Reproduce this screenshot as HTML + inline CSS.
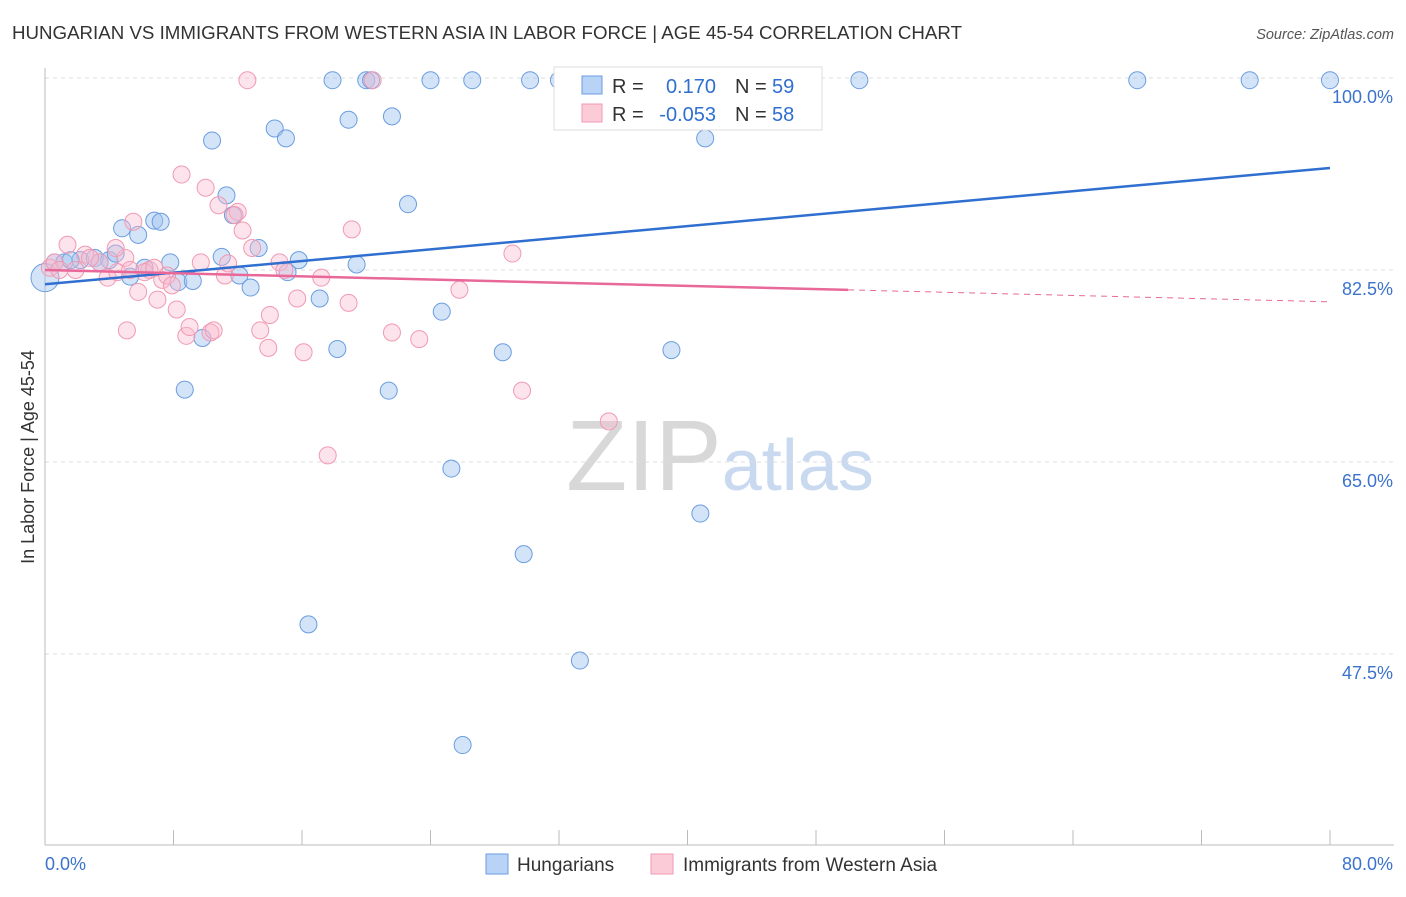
<!DOCTYPE html>
<html><head><meta charset="utf-8">
<style>
body{margin:0;background:#fff;font-family:"Liberation Sans",sans-serif;}
svg text{font-family:"Liberation Sans",sans-serif;}
</style></head>
<body>
<svg id="chart" width="1406" height="892" xmlns="http://www.w3.org/2000/svg">
<text x="12" y="39" font-size="18.6" fill="#333" textLength="950" lengthAdjust="spacingAndGlyphs">HUNGARIAN VS IMMIGRANTS FROM WESTERN ASIA IN LABOR FORCE | AGE 45-54 CORRELATION CHART</text>
<text x="1394" y="39" font-size="14.5" fill="#555" text-anchor="end" font-style="italic">Source: ZipAtlas.com</text>
<text x="720" y="490" font-size="100" text-anchor="middle" fill="#ddd" font-family="Liberation Serif"><tspan fill="#d8d8d8">ZIP</tspan><tspan fill="#c9daf0" font-family="Liberation Sans" font-size="72">atlas</tspan></text>
<g id="grid"></g>
<g id="axes"></g>
<g id="pts"></g>
<g id="trends"></g>
<text transform="translate(34,457) rotate(-90)" font-size="18" fill="#333" text-anchor="middle">In Labor Force | Age 45-54</text>
<g>
<rect x="554" y="67" width="268" height="63" fill="#fff" stroke="#ddd"/>
<rect x="582" y="76" width="20" height="18" fill="#b8d3f5" stroke="#6a9de0"/>
<rect x="582" y="104" width="20" height="18" fill="#fccbd8" stroke="#f09ab3"/>
<text x="612" y="93" font-size="20" fill="#333">R = </text><text x="716" y="93" font-size="20" fill="#2f6fd0" text-anchor="end">0.170</text>
<text x="735" y="93" font-size="20" fill="#333">N = </text><text x="772" y="93" font-size="20" fill="#2f6fd0">59</text>
<text x="612" y="121" font-size="20" fill="#333">R = </text><text x="716" y="121" font-size="20" fill="#2f6fd0" text-anchor="end">-0.053</text>
<text x="735" y="121" font-size="20" fill="#333">N = </text><text x="772" y="121" font-size="20" fill="#2f6fd0">58</text>
</g>
<g>
<rect x="486" y="854" width="22" height="20" fill="#b8d3f5" stroke="#6a9de0"/>
<text x="517" y="871" font-size="19" fill="#333">Hungarians</text>
<rect x="651" y="854" width="22" height="20" fill="#fccbd8" stroke="#f09ab3"/>
<text x="683" y="871" font-size="19" fill="#333">Immigrants from Western Asia</text>
</g>
</svg>
<script>
const yTicks=[100,82.5,65,47.5];
const yTickLabels=["100.0%","82.5%","65.0%","47.5%"];
const blueX=[0.6,1.2,2.2,3.1,4.0,4.4,5.3,4.8,5.8,6.8,7.2,6.2,7.8,8.3,9.2,10.4,11.3,11.7,11.0,12.1,12.8,13.3,14.3,15.0,15.1,15.8,16.4,17.1,17.9,18.2,18.9,19.4,20.0,20.3,21.4,21.6,22.6,24.0,24.7,25.3,26.0,26.6,28.5,29.8,30.2,32.0,33.3,39.0,40.8,41.1,50.7,68.0,75.0,80.0,8.7,9.8,1.6,3.4];
const blueY=[83.2,83.2,83.4,83.6,83.4,84.0,81.9,86.3,85.7,87.0,86.9,82.7,83.2,81.4,81.5,94.3,89.3,87.5,83.7,82.0,80.9,84.5,95.4,94.5,82.3,83.4,50.2,79.9,99.8,75.3,96.2,83.0,99.8,99.8,71.5,96.5,88.5,99.8,78.7,64.4,39.2,99.8,75.0,56.6,99.8,99.8,46.9,75.2,60.3,94.5,99.8,99.8,99.8,99.8,71.6,76.3,83.4,83.2];
const pinkX=[0.3,0.6,1.4,1.9,2.5,3.4,3.9,4.5,5.0,5.1,5.5,5.8,6.5,7.0,7.3,7.6,7.9,8.2,8.5,8.8,9.0,10.0,10.3,10.5,10.8,11.2,11.4,12.0,12.3,12.6,12.9,13.4,13.9,14.0,14.6,14.9,15.7,16.1,17.2,17.6,18.9,19.1,20.4,21.6,23.3,25.8,29.1,29.7,35.1,44.0,4.4,2.8,6.2,11.8,9.7,0.9,6.8,5.3];
const pinkY=[82.7,83.2,84.8,82.5,83.9,83.2,81.8,82.3,83.6,77.0,86.9,80.5,82.5,79.8,81.6,82.0,81.1,78.9,91.2,76.5,77.3,90.0,76.8,77.0,88.4,82.0,83.1,87.8,86.1,99.8,84.5,77.0,75.4,78.4,83.2,82.5,79.9,75.0,81.8,65.6,79.5,86.2,99.8,76.8,76.2,80.7,84.0,71.5,68.7,99.8,84.5,83.6,82.3,87.5,83.2,82.5,82.7,82.5];
const blueTrend=[81.2,91.8];
const pinkTrend=[82.5,79.6];
const pinkSolidEnd=50;
const NS="http://www.w3.org/2000/svg";
const X=v=>45+v*1285/80, Y=v=>78+(100-v)*10.971;
function mk(t,a,p){const e=document.createElementNS(NS,t);for(const k in a)e.setAttribute(k,a[k]);p.appendChild(e);return e;}
const grid=document.getElementById('grid'),axes=document.getElementById('axes');
yTicks.forEach((t,i)=>{
 const g=mk('line',{x1:45,x2:1394,y1:Y(t),y2:Y(t),stroke:'#ddd','stroke-dasharray':'4,4'},grid);
 
 
 const l=mk('text',{x:1393,y:Y(t)+25,'font-size':18,fill:'#3b73cc','text-anchor':'end'},axes);
 l.textContent=yTickLabels[i];
 
 
});
let a=mk('line',{x1:45,x2:45,y1:68,y2:845,stroke:'#bbb'},axes);


a=mk('line',{x1:45,x2:1394,y1:845,y2:845,stroke:'#bbb'},axes);


for(let i=0;i<=10;i++){const t=mk('line',{x1:X(i*8),x2:X(i*8),y1:830,y2:845,stroke:'#bbb'},axes);
 
 }
let t=mk('text',{x:45,y:870,'font-size':18,fill:'#3b73cc'},axes);t.textContent='0.0%';


t=mk('text',{x:1393,y:870,'font-size':18,fill:'#3b73cc','text-anchor':'end'},axes);t.textContent='80.0%';


const pts=document.getElementById('pts');
let big=mk('circle',{cx:X(0),cy:Y(81.8),r:14,fill:'rgba(160,195,240,0.45)',stroke:'#6a9de0','stroke-width':1},pts);


blueX.forEach((x,i)=>{const c=mk('circle',{cx:X(x),cy:Y(blueY[i]),r:8.5,fill:'rgba(160,195,240,0.45)',stroke:'#6a9de0','stroke-width':1},pts);
 
 });
pinkX.forEach((x,i)=>{const c=mk('circle',{cx:X(x),cy:Y(pinkY[i]),r:8.5,fill:'rgba(250,185,205,0.4)',stroke:'#f09ab3','stroke-width':1},pts);
 
 });
const tr=document.getElementById('trends');
let l=mk('line',{x1:X(0),y1:Y(blueTrend[0]),x2:X(80),y2:Y(blueTrend[1]),stroke:'#2f6fd0','stroke-width':2.5},tr);


const py=x=>pinkTrend[0]+(pinkTrend[1]-pinkTrend[0])*x/80;
l=mk('line',{x1:X(0),y1:Y(py(0)),x2:X(pinkSolidEnd),y2:Y(py(pinkSolidEnd)),stroke:'#e8689a','stroke-width':2.5},tr);


l=mk('line',{x1:X(pinkSolidEnd),y1:Y(py(pinkSolidEnd)),x2:X(80),y2:Y(py(80)),stroke:'#e8689a','stroke-width':1,'stroke-dasharray':'6,5'},tr);


</script>
</body></html>
